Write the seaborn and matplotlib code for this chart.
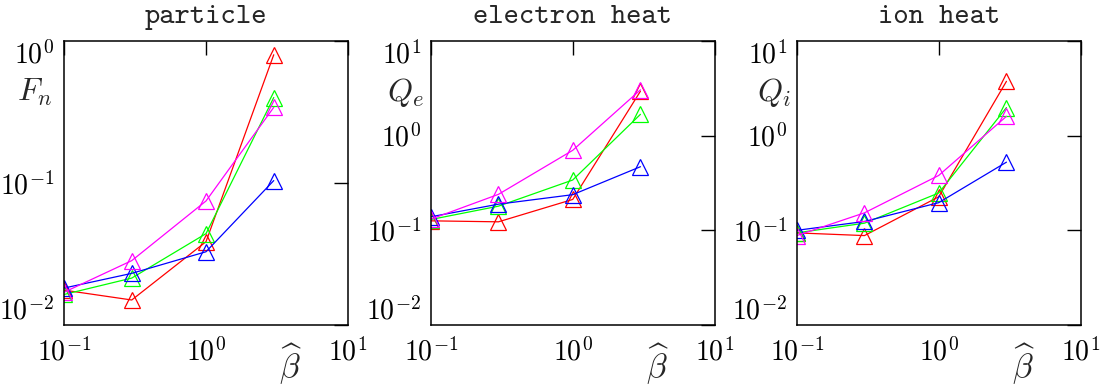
import numpy as np
import pandas as pd
import seaborn as sns
import matplotlib.pyplot as plt

sns.set_style("white")
plt.rcParams["mathtext.fontset"] = "cm"

# beta-hat scan values
beta = [0.1, 0.3, 1.0, 3.0]

# particle flux F_n
fn_red = [0.0176, 0.0150, 0.0386, 0.80]
fn_green = [0.0164, 0.0214, 0.0440, 0.40]
fn_blue = [0.0182, 0.0231, 0.0328, 0.104]
fn_magenta = [0.0170, 0.0284, 0.0747, 0.341]

# electron heat flux Q_e
qe_red = [0.126, 0.123, 0.212, 2.95]
qe_green = [0.130, 0.180, 0.340, 1.68]
qe_blue = [0.139, 0.189, 0.238, 0.470]
qe_magenta = [0.131, 0.240, 0.700, 3.05]

# ion heat flux Q_i
qi_red = [0.094, 0.088, 0.226, 3.75]
qi_green = [0.094, 0.119, 0.248, 1.98]
qi_blue = [0.100, 0.124, 0.196, 0.525]
qi_magenta = [0.088, 0.153, 0.380, 1.60]

titles = ["particle", "electron heat", "ion heat"]
ylabels = [r"$F_n$", r"$Q_e$", r"$Q_i$"]
ylims = [(1e-2, 1e0), (1e-2, 1e1), (1e-2, 1e1)]
yticks = [[1e-2, 1e-1, 1e0], [1e-2, 1e-1, 1e0, 1e1], [1e-2, 1e-1, 1e0, 1e1]]
ytick_labels = [
    [r"$10^{-2}$", r"$10^{-1}$", r"$10^{0}$"],
    [r"$10^{-2}$", r"$10^{-1}$", r"$10^{0}$", r"$10^{1}$"],
    [r"$10^{-2}$", r"$10^{-1}$", r"$10^{0}$", r"$10^{1}$"],
]
xticks = [0.1, 1.0, 10.0]
xtick_labels = [r"$10^{-1}$", r"$10^{0}$", r"$10^{1}$"]

colors = ["#ff0000", "#00ff00", "#0000ff", "#ff00ff"]
panels = [
    [fn_red, fn_green, fn_blue, fn_magenta],
    [qe_red, qe_green, qe_blue, qe_magenta],
    [qi_red, qi_green, qi_blue, qi_magenta],
]

fig = plt.figure(figsize=(11.08, 3.88), dpi=100)
lefts = [64 / 1108, 430.7 / 1108, 796.7 / 1108]
ylab_x = [-0.165, -0.154, -0.14]

for i, series in enumerate(panels):
    ax = fig.add_axes([lefts[i], 63 / 388, 284 / 1108, 284 / 388])
    for vals, c in zip(series, colors):
        df = pd.DataFrame({"beta": beta, "flux": vals})
        sns.lineplot(data=df, x="beta", y="flux", ax=ax, color=c, lw=0.9,
                     marker="^", markersize=11, markerfacecolor="none",
                     markeredgecolor=c, markeredgewidth=0.9)
    ax.set_xscale("log")
    ax.set_yscale("log")
    ax.set_xlim(0.1, 10)
    ax.set_ylim(*ylims[i])
    ax.set_xticks(xticks)
    ax.set_xticklabels(xtick_labels)
    ax.set_yticks(yticks[i])
    ax.set_yticklabels(ytick_labels[i])
    ax.minorticks_off()
    ax.tick_params(axis="both", which="major", direction="in", length=10,
                   width=1.0, top=True, right=True, labelsize=20, colors="black")
    ax.tick_params(axis="x", pad=9)
    ax.tick_params(axis="y", pad=7)
    labs = ax.get_yticklabels()
    labs[0].set_va("bottom")
    labs[-1].set_va("top")
    for sp in ax.spines.values():
        sp.set_color("black")
        sp.set_linewidth(1.1)
    ax.set_xlabel("")
    ax.set_ylabel("")
    ax.set_title(titles[i], fontfamily="cmtt10", fontsize=21, pad=13)
    ax.text(ylab_x[i], 0.82, ylabels[i], transform=ax.transAxes,
            ha="left", va="center", fontsize=23)
    ax.text(0.80, -0.14, r"$\widehat{\beta}$", transform=ax.transAxes,
            ha="center", va="center", fontsize=24)

fig.savefig("out.png", dpi=100)
